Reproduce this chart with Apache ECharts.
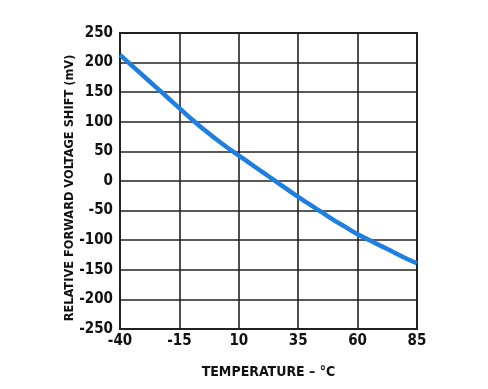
<!DOCTYPE html>
<html>
<head>
<meta charset="utf-8">
<script src="https://cdn.jsdelivr.net/npm/echarts@6/dist/echarts.min.js"></script>
<style>html,body{margin:0;padding:0;background:#fff}#c{width:488px;height:389px}</style>
</head>
<body>
<div id="c"></div>
<script>
const temperatures = [-40,-35,-30,-25,-20,-15,-10,-5,0,5,10,15,20,25,30,35,40,45,50,55,60,65,70,75,80,85];
const voltageShift = [213,195,177,159,141,123,105,88,72,57,43,29,15,1,-13,-27,-40,-53,-66,-78,-90,-100,-110,-120,-130,-139];
const xTicks = [-40,-15,10,35,60,85];
const yTicks = [-250,-200,-150,-100,-50,0,50,100,150,200,250];
const xTitle = 'TEMPERATURE – °C';
const yTitle = 'RELATIVE FORWARD VOLTAGE SHIFT (mV)';

const font = '"DejaVu Sans Condensed","Liberation Sans Narrow",sans-serif';
const chart = echarts.init(document.getElementById('c'));
chart.setOption({
  animation: false,
  backgroundColor: '#fff',
  grid: {left: 120, right: 71, top: 33, bottom: 60, show: true, borderColor: '#222', borderWidth: 2},
  xAxis: {
    type: 'value', min: xTicks[0], max: xTicks[xTicks.length-1], interval: 25,
    name: xTitle, nameLocation: 'middle', nameGap: 36, nameMoveOverlap: false,
    nameTextStyle: {fontFamily: font, fontWeight: 'bold', fontSize: 14, color: '#111'},
    axisLine: {show: false}, axisTick: {show: false},
    axisLabel: {fontFamily: font, fontWeight: 'bold', fontSize: 15, color: '#111', margin: 5},
    splitLine: {show: true, lineStyle: {color: '#222', width: 1.6}}
  },
  yAxis: {
    type: 'value', min: yTicks[0], max: yTicks[yTicks.length-1], interval: 50,
    name: yTitle, nameLocation: 'middle', nameGap: 44, nameRotate: 90, nameMoveOverlap: false,
    nameTextStyle: {fontFamily: font, fontWeight: 'bold', fontSize: 12.7, color: '#111', padding: [0, 14, 0, 0]},
    axisLine: {show: false}, axisTick: {show: false},
    axisLabel: {fontFamily: font, fontWeight: 'bold', fontSize: 15, color: '#111', margin: 7},
    splitLine: {show: true, lineStyle: {color: '#222', width: 1.6}}
  },
  series: [{
    type: 'line', smooth: true, showSymbol: false,
    data: temperatures.map((t, i) => [t, voltageShift[i]]),
    lineStyle: {color: '#1f7fe0', width: 4.5}
  }]
});
</script>
</body>
</html>
